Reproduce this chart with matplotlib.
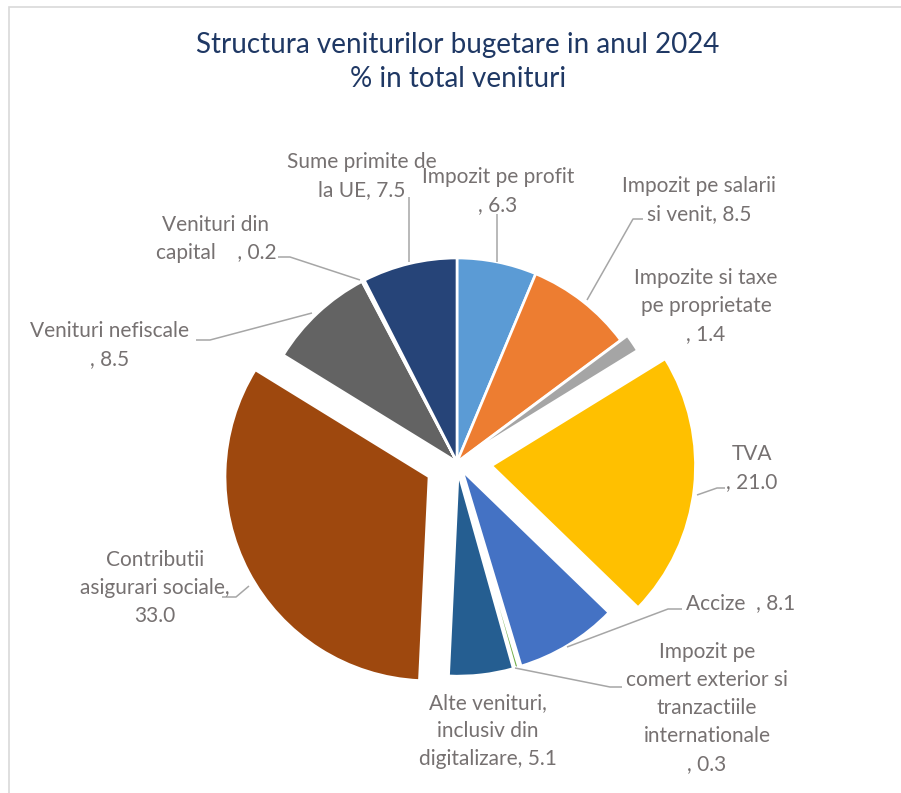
import matplotlib
matplotlib.use("Agg")
import matplotlib.pyplot as plt
from matplotlib.patches import Rectangle

W, H = 901, 793

categories = [
    "Impozit pe profit", "Impozit pe salarii si venit", "Impozite si taxe pe proprietate",
    "TVA", "Accize", "Impozit pe comert exterior si tranzactiile internationale",
    "Alte venituri, inclusiv din digitalizare", "Contributii asigurari sociale",
    "Venituri nefiscale", "Venituri din capital", "Sume primite de la UE",
]
values = [6.3, 8.5, 1.4, 21.0, 8.1, 0.3, 5.1, 33.0, 8.5, 0.2, 7.5]
label_texts = [
    "Impozit pe profit\n, 6.3",
    "Impozit pe salarii\nsi venit, 8.5",
    "Impozite si taxe\npe proprietate\n, 1.4",
    "TVA\n, 21.0",
    "Accize  , 8.1",
    "Impozit pe\ncomert exterior si\ntranzactiile\ninternationale\n, 0.3",
    "Alte venituri,\ninclusiv din\ndigitalizare, 5.1",
    "Contributii\nasigurari sociale,\n33.0",
    "Venituri nefiscale\n, 8.5",
    "Venituri din\ncapital    , 0.2",
    "Sume primite de\nla UE, 7.5",
]
colors = ["#5B9BD5", "#ED7D31", "#A5A5A5", "#FFC000", "#4472C4", "#70AD47",
          "#255E91", "#9E480E", "#636363", "#997300", "#264478"]
explode = [0, 0, 0.04, 0.17, 0.05, 0.05, 0.05, 0.155, 0, 0, 0]

# label centres (pixels, y down) and leader polylines
label_pos = [(498, 191), (699, 200), (706, 306), (752, 468), (741, 603),
             (707, 708), (488, 731), (155, 588), (110, 345), (216, 239), (362, 176)]
leaders = [
    [(497, 214), (497, 262)],
    [(643, 219), (633, 219), (587, 300)],
    None,
    [(725, 488), (717, 488), (697, 495)],
    [(682, 609), (668, 609), (567, 647)],
    [(622, 687), (610, 687), (515, 668)],
    None,
    [(222, 597), (236, 597), (249, 586)],
    [(196, 340), (210, 340), (312, 313)],
    [(278, 257), (290, 257), (360, 280)],
    [(409, 197), (409, 262)],
]

TEXT = "#767171"
RADIUS = 204
plt.rcParams["font.family"] = ["Lato", "DejaVu Sans"]

fig = plt.figure(figsize=(W / 100, H / 100), dpi=100)
ax = fig.add_axes([0, 0, 1, 1])


def py(y):
    return H - y


# chart frame (only top/left visible in the crop)
ax.add_patch(Rectangle((8.5, py(6.5) - 900), 1000, 900, fill=False,
                       edgecolor="#D9D9D9", linewidth=1.2))

# matplotlib explode offsets are in data units -> scale by radius
ax.pie(values, colors=colors, explode=[e * RADIUS for e in explode],
       startangle=90, counterclock=False,
       center=(457, py(462)), radius=RADIUS, frame=True,
       wedgeprops=dict(edgecolor="white", linewidth=1.9))
ax.set_xlim(0, W)
ax.set_ylim(0, H)
ax.set_aspect("equal")
ax.axis("off")

for txt, (x, y), line in zip(label_texts, label_pos, leaders):
    ax.text(x, py(y), txt, ha="center", va="center", fontsize=15,
            color=TEXT, linespacing=1.5)
    if line:
        ax.plot([p[0] for p in line], [py(p[1]) for p in line],
                color="#A6A6A6", linewidth=1.1, solid_capstyle="butt")

ax.text(458, py(62), "Structura veniturilor bugetare in anul 2024\n% in total venituri",
        ha="center", va="center", fontsize=20, color="#1F3864", linespacing=1.4)

fig.savefig("out.png", dpi=100)
